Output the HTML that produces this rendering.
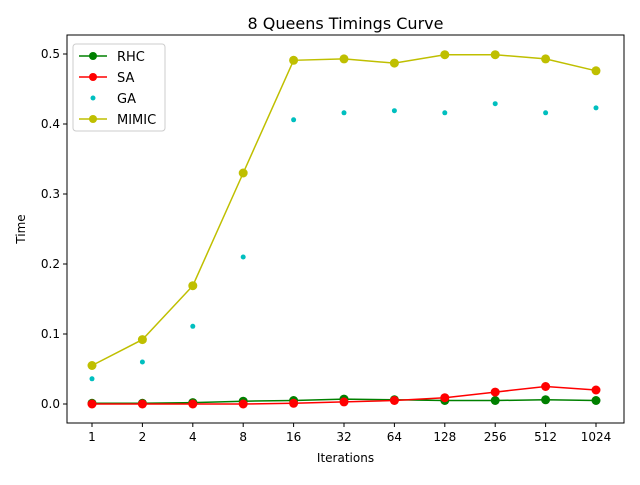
<!DOCTYPE html>
<html><head><meta charset="utf-8"><style>
body{margin:0;background:#fff;font-family:"Liberation Sans","DejaVu Sans",sans-serif}
svg text{font-family:"DejaVu Sans","Liberation Sans",sans-serif}
</style></head><body>
<svg id="c" width="640" height="480" xmlns="http://www.w3.org/2000/svg"></svg>
<script>
const categories=["1","2","4","8","16","32","64","128","256","512","1024"];
const rhc=[0.001,0.001,0.002,0.004,0.005,0.007,0.006,0.005,0.005,0.006,0.005];
const sa=[0.000,0.000,0.000,0.000,0.001,0.003,0.005,0.009,0.017,0.025,0.020];
const ga=[0.036,0.060,0.111,0.210,0.406,0.416,0.419,0.416,0.429,0.416,0.423];
const mimic=[0.055,0.092,0.169,0.330,0.491,0.493,0.487,0.499,0.499,0.493,0.476];
const yTicks=[0.0,0.1,0.2,0.3,0.4,0.5];
const yTickLabels=["0.0","0.1","0.2","0.3","0.4","0.5"];
const svg=document.getElementById('c');
const NS="http://www.w3.org/2000/svg";
const L=67,R=624,T=35,B=423;
function xs(i){return 92+i*(596-92)/(categories.length-1);}
function ys(v){return 404-v*700;}
function mk(tag,attrs,name,parent){const e=document.createElementNS(NS,tag);for(const k in attrs)e.setAttribute(k,attrs[k]);


(parent||svg).appendChild(e);return e;}
function txt(x,y,s,name,anchor,size){const t=mk('text',{x:x,y:y,'font-size':size||12,'text-anchor':anchor||'middle',fill:'#000'},name);t.textContent=s;return t;}
mk('rect',{x:L,y:T,width:R-L,height:B-T,fill:'#fff',stroke:'#000','stroke-width':1},'plot-area');
categories.forEach((c,i)=>{const x=xs(i);mk('line',{x1:x,x2:x,y1:B,y2:B+4,stroke:'#000'},'x-tick');txt(x,B+18,c,'x-tick-label');});
yTicks.forEach((v,i)=>{const y=ys(v);mk('line',{x1:L-4,x2:L,y1:y,y2:y,stroke:'#000'},'y-tick');txt(L-7,y+4,yTickLabels[i],'y-tick-label','end');});
txt((L+R)/2,462,'Iterations','x-axis-title');
const yt=txt(25,229,'Time','y-axis-title');yt.setAttribute('transform','rotate(-90 25 229)');
txt((L+R)/2,29,'8 Queens Timings Curve','chart-title','middle',16);
function series(vals,color,name,line,r){
 if(line){mk('polyline',{points:vals.map((v,i)=>xs(i)+','+ys(v)).join(' '),fill:'none',stroke:color,'stroke-width':1.5},name+'-line');}
 vals.forEach((v,i)=>mk('circle',{cx:xs(i),cy:ys(v),r:r,fill:color},name+'-point'));
}
series(mimic,'#bfbf00','mimic',true,4.5);
series(ga,'#00bfbf','ga',false,2.5);
series(rhc,'#008000','rhc',true,4.5);
series(sa,'#ff0000','sa',true,4.5);
const lg=mk('rect',{x:73,y:44,width:92,height:87,rx:3,fill:'#fff',stroke:'#ccc'},'legend');
const items=[['RHC','#008000',true,4],['SA','#ff0000',true,4],['GA','#00bfbf',false,2.5],['MIMIC','#bfbf00',true,4]];
items.forEach((it,k)=>{const y=56+k*21;
 if(it[2])mk('line',{x1:79,x2:107,y1:y,y2:y,stroke:it[1],'stroke-width':1.5},'legend-line');
 mk('circle',{cx:93,cy:y,r:it[3],fill:it[1]},'legend-marker');
 txt(117,y+5,it[0],'legend-entry','start',13);});
</script>
</body></html>
